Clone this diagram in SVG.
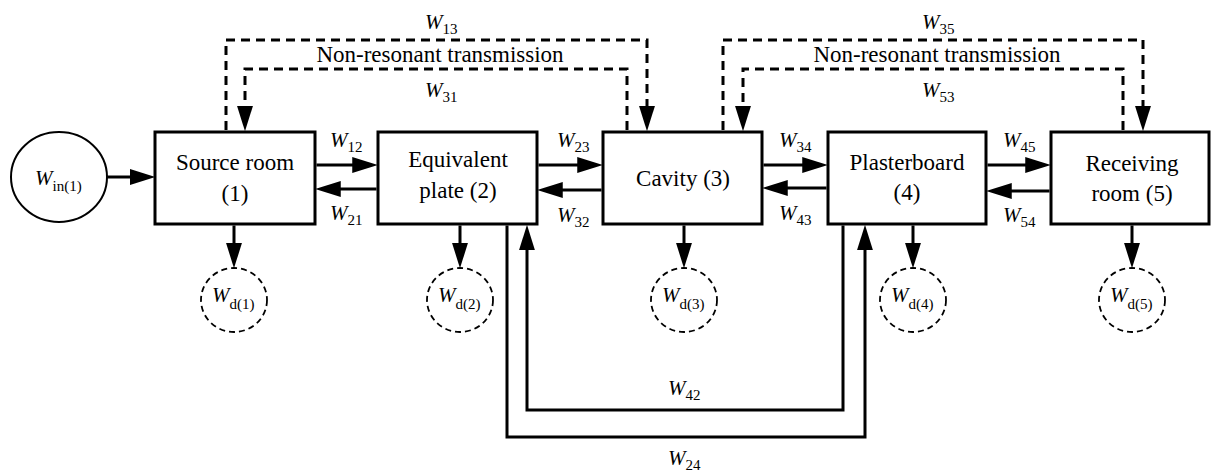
<svg xmlns="http://www.w3.org/2000/svg" width="1212" height="475" viewBox="0 0 1212 475">
<style>
.box{fill:#fff;stroke:#000;stroke-width:3}
.src{fill:#fff;stroke:#000;stroke-width:2}
.dis{fill:none;stroke:#000;stroke-width:1.8;stroke-dasharray:6 4}
.ln{fill:none;stroke:#000;stroke-width:3}
.dl{fill:none;stroke:#000;stroke-width:3;stroke-dasharray:9 6}
.bt{font-size:23px;text-anchor:middle}
.lb{font-size:21px;font-style:italic}
.sb{font-size:15px;font-style:normal}
.nr{font-size:23px}
</style>
<defs>
<marker id="ah" markerUnits="userSpaceOnUse" markerWidth="26" markerHeight="16" viewBox="0 0 24 15" refX="4" refY="7.5" orient="auto">
<path d="M0,0 L24,7.5 L0,15 z" fill="#000"/>
</marker>
</defs>

<g id="connectors">
<path class="ln" d="M107,177 H134" marker-end="url(#ah)"/>
<path class="ln" d="M316.5,165 H356.5" marker-end="url(#ah)"/>
<path class="ln" d="M538.5,165 H581.5" marker-end="url(#ah)"/>
<path class="ln" d="M763.5,165 H806.5" marker-end="url(#ah)"/>
<path class="ln" d="M987.5,165 H1029.5" marker-end="url(#ah)"/>
<path class="ln" d="M376.5,189 H336.5" marker-end="url(#ah)"/>
<path class="ln" d="M601.5,190 H558.5" marker-end="url(#ah)"/>
<path class="ln" d="M826.5,188 H783.5" marker-end="url(#ah)"/>
<path class="ln" d="M1049.5,191 H1007.5" marker-end="url(#ah)"/>
<path class="ln" d="M234,225.5 V247" marker-end="url(#ah)"/>
<path class="ln" d="M460,225.5 V247" marker-end="url(#ah)"/>
<path class="ln" d="M684,225.5 V247" marker-end="url(#ah)"/>
<path class="ln" d="M913,225.5 V247" marker-end="url(#ah)"/>
<path class="ln" d="M1132,225.5 V247" marker-end="url(#ah)"/>
<path class="ln" d="M507,225.5 V437 H865 V246" marker-end="url(#ah)"/>
<path class="ln" d="M843,225.5 V410 H527 V246" marker-end="url(#ah)"/>
<path class="dl" d="M226,130 V40 H647 V110" marker-end="url(#ah)"/>
<path class="dl" d="M627,130 V69 H245 V110" marker-end="url(#ah)"/>
<path class="dl" d="M723,130 V40 H1143 V110" marker-end="url(#ah)"/>
<path class="dl" d="M1123,130 V69 H743 V110" marker-end="url(#ah)"/>
</g>

<g id="labels" font-family="Times New Roman, Liberation Serif, serif">
<text class="nr" x="440" y="62" text-anchor="middle">Non-resonant transmission</text>
<text class="nr" x="937" y="62" text-anchor="middle">Non-resonant transmission</text>
<text class="lb" x="425" y="29">W<tspan class="sb" dy="5">13</tspan></text>
<text class="lb" x="425" y="97">W<tspan class="sb" dy="5">31</tspan></text>
<text class="lb" x="922" y="29">W<tspan class="sb" dy="5">35</tspan></text>
<text class="lb" x="922" y="97">W<tspan class="sb" dy="5">53</tspan></text>
<text class="lb" x="330" y="147">W<tspan class="sb" dy="5">12</tspan></text>
<text class="lb" x="330" y="220">W<tspan class="sb" dy="5">21</tspan></text>
<text class="lb" x="557" y="147">W<tspan class="sb" dy="5">23</tspan></text>
<text class="lb" x="557" y="222">W<tspan class="sb" dy="5">32</tspan></text>
<text class="lb" x="779" y="147">W<tspan class="sb" dy="5">34</tspan></text>
<text class="lb" x="779" y="220">W<tspan class="sb" dy="5">43</tspan></text>
<text class="lb" x="1003" y="147">W<tspan class="sb" dy="5">45</tspan></text>
<text class="lb" x="1003" y="222">W<tspan class="sb" dy="5">54</tspan></text>
<text class="lb" x="668" y="395">W<tspan class="sb" dy="5">42</tspan></text>
<text class="lb" x="668" y="465">W<tspan class="sb" dy="5">24</tspan></text>
</g>

<g id="node-input" font-family="Times New Roman, Liberation Serif, serif">
<ellipse class="src" cx="59" cy="177" rx="48" ry="45"/>
<text class="lb" x="35" y="185">W<tspan class="sb" dy="6">in(1)</tspan></text>
</g>

<g id="node-1" font-family="Times New Roman, Liberation Serif, serif">
<rect class="box" x="155" y="132" width="160" height="92"/>
<text class="bt" x="235" y="170">Source room</text>
<text class="bt" x="235" y="201">(1)</text>
</g>
<g id="node-2" font-family="Times New Roman, Liberation Serif, serif">
<rect class="box" x="378" y="132" width="159" height="92"/>
<text class="bt" x="458" y="167">Equivalent</text>
<text class="bt" x="458" y="198">plate (2)</text>
</g>
<g id="node-3" font-family="Times New Roman, Liberation Serif, serif">
<rect class="box" x="603" y="132" width="159" height="92"/>
<text class="bt" x="683" y="186">Cavity (3)</text>
</g>
<g id="node-4" font-family="Times New Roman, Liberation Serif, serif">
<rect class="box" x="828" y="132" width="158" height="92"/>
<text class="bt" x="907" y="170">Plasterboard</text>
<text class="bt" x="907" y="200">(4)</text>
</g>
<g id="node-5" font-family="Times New Roman, Liberation Serif, serif">
<rect class="box" x="1051" y="132" width="158" height="92"/>
<text class="bt" x="1132" y="171">Receiving</text>
<text class="bt" x="1132" y="201">room (5)</text>
</g>

<g id="node-d1" font-family="Times New Roman, Liberation Serif, serif">
<ellipse class="dis" cx="234" cy="300" rx="33" ry="32"/>
<text class="lb" x="212" y="302">W<tspan class="sb" dy="7">d(1)</tspan></text>
</g>
<g id="node-d2" font-family="Times New Roman, Liberation Serif, serif">
<ellipse class="dis" cx="460" cy="300" rx="33" ry="32"/>
<text class="lb" x="438" y="302">W<tspan class="sb" dy="7">d(2)</tspan></text>
</g>
<g id="node-d3" font-family="Times New Roman, Liberation Serif, serif">
<ellipse class="dis" cx="684" cy="300" rx="33" ry="32"/>
<text class="lb" x="662" y="302">W<tspan class="sb" dy="7">d(3)</tspan></text>
</g>
<g id="node-d4" font-family="Times New Roman, Liberation Serif, serif">
<ellipse class="dis" cx="913" cy="300" rx="33" ry="32"/>
<text class="lb" x="891" y="302">W<tspan class="sb" dy="7">d(4)</tspan></text>
</g>
<g id="node-d5" font-family="Times New Roman, Liberation Serif, serif">
<ellipse class="dis" cx="1132" cy="300" rx="33" ry="32"/>
<text class="lb" x="1110" y="302">W<tspan class="sb" dy="7">d(5)</tspan></text>
</g>
</svg>
